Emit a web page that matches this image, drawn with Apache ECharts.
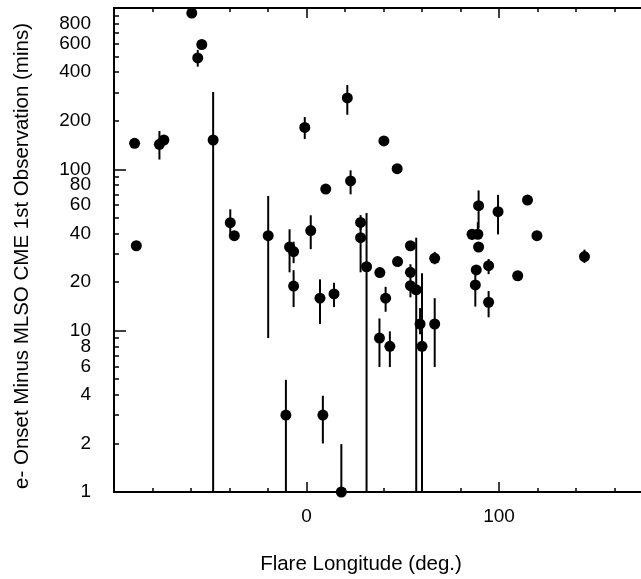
<!DOCTYPE html>
<html>
<head>
<meta charset="utf-8">
<script src="https://cdn.jsdelivr.net/npm/echarts@6/dist/echarts.min.js"></script>
<style>html,body{margin:0;padding:0;background:#fff;overflow:hidden;}#c{width:641px;height:579px;}</style>
</head>
<body>
<div id="c"></div>
<script>
// Flare longitude (deg.)
const lon = [-89.3,-88.4,-76.4,-74.1,-59.6,-56.5,-54.4,-48.5,-39.6,-37.5,
  -19.9,-8.8,-6.7,-6.7,-0.9,2.2,-10.7,8.5,7.0,14.3,
  18.1,10.0,21.2,22.9,28.1,28.1,31.2,38.1,40.2,47.1,
  47.3,41.1,37.9,43.3,54.0,54.0,54.0,57.0,59.0,60.0,
  66.6,66.6,86.0,89.0,89.4,89.4,88.2,87.7,94.6,94.6,
  99.5,109.7,114.8,119.7,144.4];
// e- onset minus MLSO CME 1st observation (mins)
const val = [145,33.6,143,152,930,490,594,152,46.7,38.8,
  38.8,33,30.9,18.9,182,41.7,3,3,15.9,16.9,
  1,75.5,277,84.7,46.9,37.7,24.9,22.9,150,101,
  26.8,15.9,9.0,8.0,33.6,23,19,17.9,11,8.0,
  28.1,11,39.6,39.6,59.5,33,23.8,19.2,25.3,15.0,
  54.6,21.9,64.5,38.8,28.8];
// error bar lower / upper (null = no bar)
const lo = [null,null,115,null,null,433,null,1,40,null,
  9.0,23,26.2,14,154,32,1,2.0,11,14,
  1,null,218,70,42,23,1,null,null,null,
  null,13.1,5.95,5.95,null,16.1,null,1,9.5,1,
  25.8,5.95,36.5,39.6,43,null,null,14.1,22.4,12.1,
  39.5,null,null,null,26.3];
const hi = [null,null,173,null,null,550,null,301,56.5,null,
  68.4,42.5,35.6,23.7,211,51.9,4.96,3.95,20.8,19.8,
  1.98,null,333,98.6,52,46,53.6,null,null,null,
  null,18.7,11.9,9.9,null,25.8,null,37.7,13.8,22.7,
  30.8,15.9,41.5,47,74,null,null,22.4,27.8,17.6,
  69.5,null,null,null,31.8];

const yLabelVals = [1,2,4,6,8,10,20,40,60,80,100,200,400,600,800];
const yMajorTicks = [1,10,100,1000];
const xLabelVals = [0,100];
const xMinorTicks = [-80,-60,-40,-20,20,40,60,80,120,140,160];

const yMinorTicks = [];
[1,10,100].forEach(d => { for (let k = 2; k <= 9; k++) yMinorTicks.push(k*d); });

const points = lon.map((x,i) => [x, val[i]]);
const bars = [];
lon.forEach((x,i) => { if (lo[i] !== null) bars.push([x, lo[i], hi[i]]); });

const FONT = 'Liberation Sans';
const tickStyle = {color:'#000', width:1.5};
function xAx(pos, major, showLabel) {
  return {
    type:'value', min:-100, max:180, position:pos, gridIndex:0,
    axisLine:{show:true, onZero:false, lineStyle:{color:'#000', width:2}},
    splitLine:{show:false},
    axisTick:{show:true, inside:true, length: major ? 10 : 4, lineStyle:tickStyle,
      customValues: major ? xLabelVals : xMinorTicks},
    axisLabel:{show:showLabel, customValues:xLabelVals, color:'#000', fontSize:19, fontFamily:FONT, margin:15},
  };
}
function yAx(pos, major, showLabel) {
  return {
    type:'log', logBase:10, min:1, max:1000, position:pos, gridIndex:0,
    axisLine:{show:true, onZero:false, lineStyle:{color:'#000', width:2}},
    splitLine:{show:false},
    axisTick:{show:true, inside:true, length: major ? 12 : 5, lineStyle:tickStyle,
      customValues: major ? yMajorTicks : yMinorTicks},
    axisLabel:{show:showLabel, customValues:yLabelVals, color:'#000', fontSize:19, fontFamily:FONT, margin:23,
      formatter: v => String(Math.round(v))},
  };
}

const chart = echarts.init(document.getElementById('c'), null, {renderer:'canvas'});
chart.setOption({
  animation:false,
  backgroundColor:'#fff',
  grid:{left:114, width:539, top:8, height:484, containLabel:false, outerBoundsMode:'none'},
  xAxis:[xAx('bottom', false, true), xAx('bottom', true, false), xAx('top', false, false), xAx('top', true, false)],
  yAxis:[yAx('left', false, true), yAx('left', true, false), yAx('right', false, false), yAx('right', true, false)],
  graphic:[
    {type:'text', x:361, y:564, style:{text:'Flare Longitude (deg.)', font:'20.5px "Liberation Sans"', fill:'#000', textAlign:'center', textVerticalAlign:'middle'}},
    {type:'text', x:22, y:256, rotation:Math.PI/2, style:{text:'e- Onset Minus MLSO CME 1st Observation (mins)', font:'20.5px "Liberation Sans"', fill:'#000', textAlign:'center', textVerticalAlign:'middle'}}
  ],
  series:[
    {
      type:'custom', xAxisIndex:0, yAxisIndex:0, data:bars, encode:{x:0, y:[1,2]}, clip:true, z:2,
      renderItem:function(params, api){
        const x = api.value(0), a = api.value(1), b = api.value(2);
        const p1 = api.coord([x,a]), p2 = api.coord([x,b]);
        return {type:'line', shape:{x1:p1[0], y1:p1[1], x2:p2[0], y2:p2[1]}, style:{stroke:'#000', lineWidth:2}};
      }
    },
    {
      type:'scatter', xAxisIndex:0, yAxisIndex:0, data:points, symbol:'circle', symbolSize:11,
      itemStyle:{color:'#000', opacity:1}, z:3, clip:false
    }
  ]
});
</script>
</body>
</html>
